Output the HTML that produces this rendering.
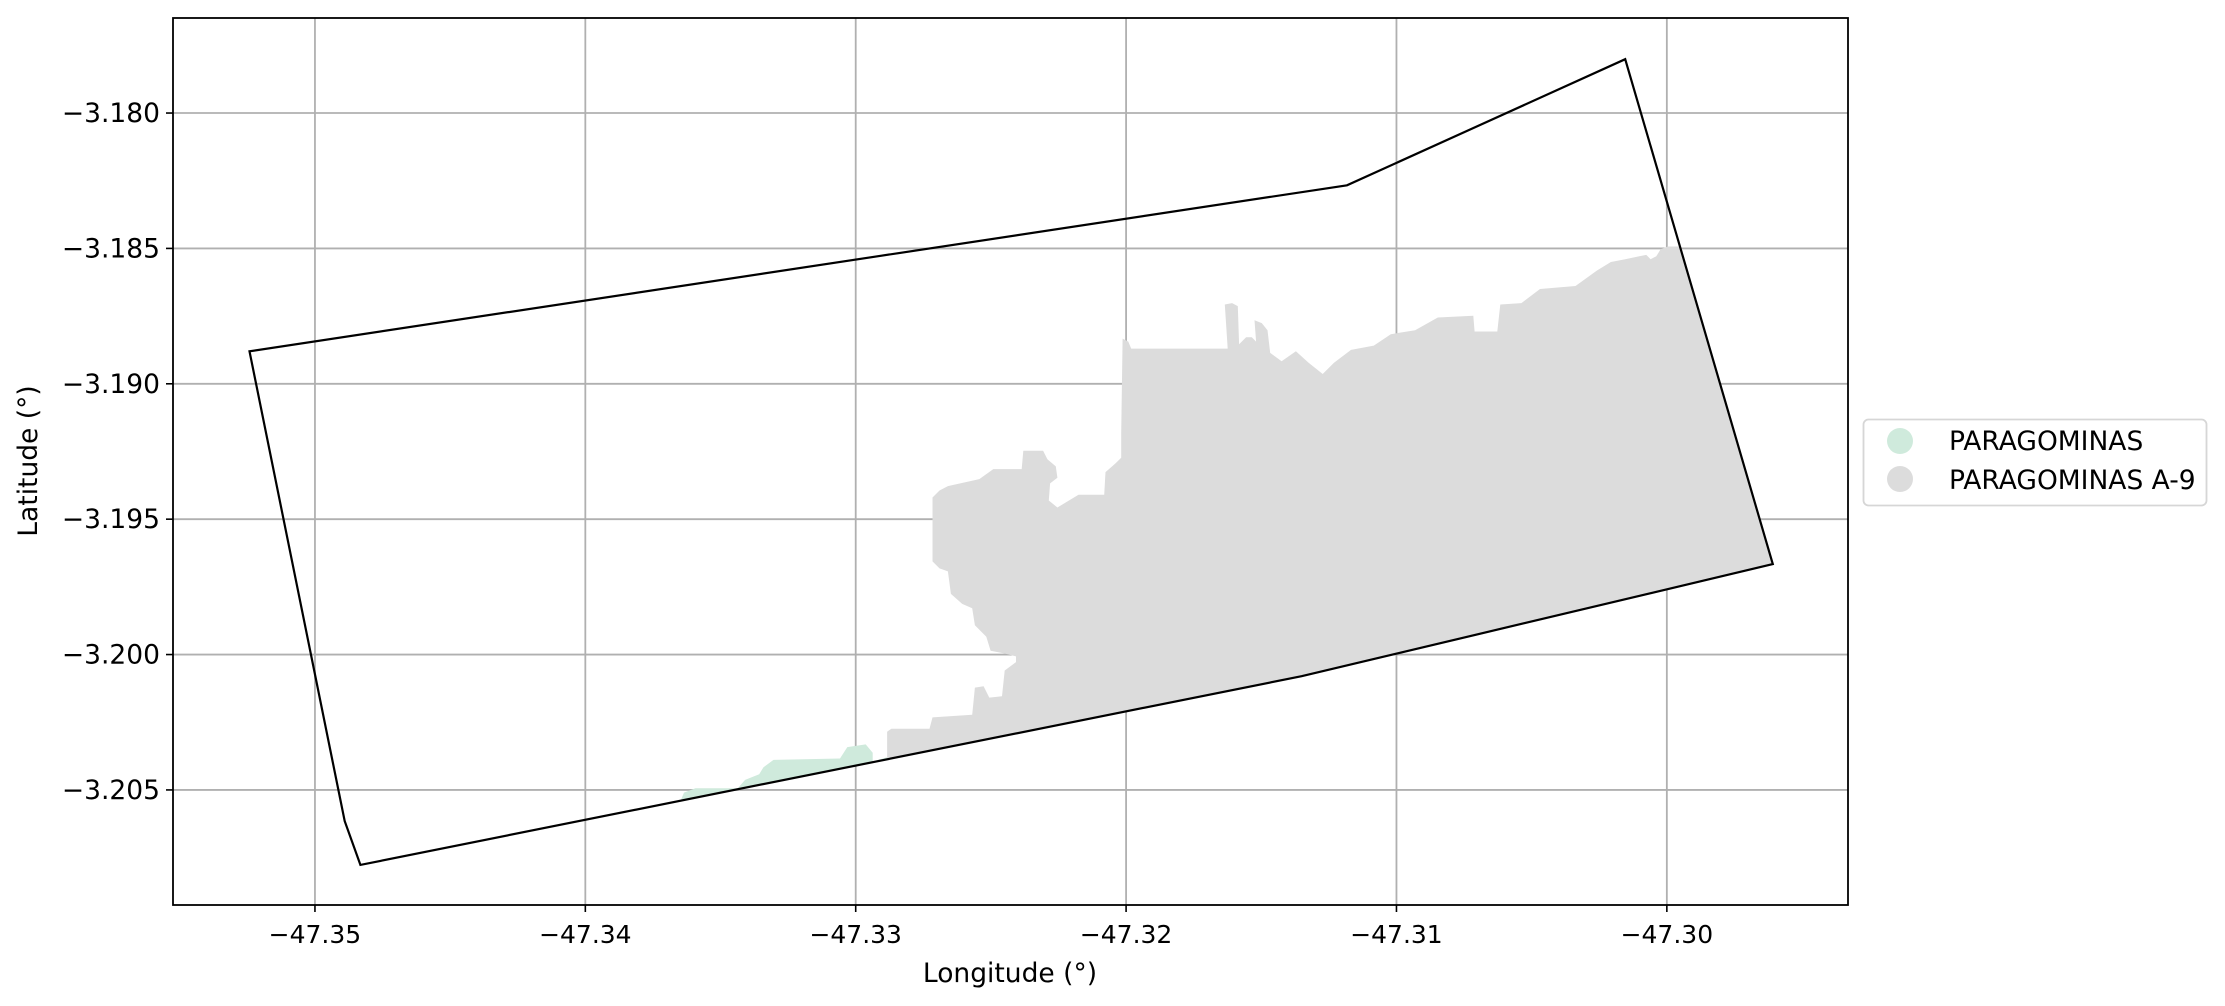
<!DOCTYPE html>
<html><head><meta charset="utf-8"><style>
html,body{margin:0;padding:0;background:#fff;}
svg{display:block;font-family:"DejaVu Sans","Liberation Sans",sans-serif;}
</style></head><body>
<svg id="chart" width="2225" height="1006" viewBox="0 0 2225 1006">
<rect width="2225" height="1006" fill="#fff"/>
<defs><clipPath id="bclip"><polygon id="bclipPoly"/></clipPath><clipPath id="axclip"><rect x="173" y="18" width="1675" height="887"/></clipPath></defs>
<g id="grid"></g>
<g id="shapes" clip-path="url(#axclip)"></g>
<rect x="173" y="18" width="1675" height="887" fill="none" stroke="#000" stroke-width="1.8"/>
<g id="ticks"></g>
<text x="1010" y="982" font-size="26.5" text-anchor="middle">Longitude (°)</text>
<text transform="translate(37,461) rotate(-90)" font-size="26.5" text-anchor="middle">Latitude (°)</text>
<g>
<rect x="1863.5" y="419.5" width="343" height="86" rx="5" fill="#fff" stroke="#d6d6d6" stroke-width="1.8"/>
<circle cx="1900" cy="441" r="13" fill="#cfeadc"/>
<text x="1949" y="450" font-size="26.5">PARAGOMINAS</text>
<circle cx="1900" cy="479" r="13" fill="#dcdcdc"/>
<text x="1949" y="489" font-size="26.5">PARAGOMINAS A-9</text>
</g>
</svg>
<script>
const xTicks=[-47.35,-47.34,-47.33,-47.32,-47.31,-47.30];
const xTickLabels=["−47.35","−47.34","−47.33","−47.32","−47.31","−47.30"];
const yTicks=[-3.180,-3.185,-3.190,-3.195,-3.200,-3.205];
const yTickLabels=["−3.180","−3.185","−3.190","−3.195","−3.200","−3.205"];
const boundaryLon=[-47.35242,-47.34890,-47.34832,-47.31351,-47.29608,-47.30154,-47.31183];
const boundaryLat=[-3.18880,-3.20615,-3.20777,-3.20080,-3.19666,-3.17801,-3.18267];
const greyLon=[-47.32884,-47.32884,-47.32868,-47.32727,-47.32716,-47.32569,-47.32559,-47.32527,-47.32506,-47.32459,-47.32449,-47.32407,-47.32407,-47.32449,-47.32501,-47.32517,-47.32559,-47.32569,-47.32606,-47.32648,-47.32659,-47.32690,-47.32716,-47.32716,-47.32690,-47.32659,-47.32543,-47.32491,-47.32386,-47.32380,-47.32307,-47.32291,-47.32260,-47.32254,-47.32281,-47.32286,-47.32254,-47.32176,-47.32081,-47.32076,-47.32039,-47.32018,-47.32018,-47.32013,-47.31992,-47.31981,-47.31624,-47.31635,-47.31608,-47.31587,-47.31582,-47.31556,-47.31535,-47.31519,-47.31525,-47.31498,-47.31477,-47.31467,-47.31425,-47.31372,-47.31325,-47.31273,-47.31231,-47.31168,-47.31084,-47.31021,-47.30931,-47.30847,-47.30716,-47.30711,-47.30627,-47.30616,-47.30538,-47.30469,-47.30338,-47.30259,-47.30207,-47.30154,-47.30102,-47.30076,-47.30060,-47.30039,-47.30023,-47.29997,-47.29981,-47.29300,-47.29300,-47.32884];
const greyLat=[-3.20379,-3.20285,-3.20274,-3.20274,-3.20232,-3.20222,-3.20122,-3.20117,-3.20159,-3.20154,-3.20059,-3.20028,-3.20007,-3.19996,-3.19986,-3.19934,-3.19892,-3.19829,-3.19813,-3.19776,-3.19693,-3.19682,-3.19656,-3.19420,-3.19394,-3.19378,-3.19352,-3.19315,-3.19315,-3.19247,-3.19247,-3.19279,-3.19305,-3.19347,-3.19368,-3.19431,-3.19457,-3.19410,-3.19410,-3.19326,-3.19294,-3.19273,-3.19184,-3.18833,-3.18844,-3.18870,-3.18870,-3.18707,-3.18702,-3.18713,-3.18854,-3.18828,-3.18828,-3.18844,-3.18765,-3.18776,-3.18802,-3.18886,-3.18917,-3.18880,-3.18922,-3.18964,-3.18922,-3.18875,-3.18859,-3.18817,-3.18802,-3.18755,-3.18749,-3.18807,-3.18807,-3.18707,-3.18702,-3.18650,-3.18639,-3.18582,-3.18550,-3.18540,-3.18529,-3.18524,-3.18540,-3.18529,-3.18503,-3.18493,-3.18493,-3.18493,-3.21000,-3.21000];
const greenLon=[-47.33646,-47.33635,-47.33593,-47.33436,-47.33409,-47.33357,-47.33341,-47.33304,-47.33058,-47.33031,-47.32963,-47.32937,-47.32937,-47.32884,-47.32884,-47.33646];
const greenLat=[-3.20536,-3.20510,-3.20494,-3.20494,-3.20463,-3.20442,-3.20416,-3.20389,-3.20384,-3.20342,-3.20332,-3.20363,-3.20395,-3.20379,-3.20700,-3.20700];
const xMin=-47.35525,xMax=-47.29330,yMin=-3.20925,yMax=-3.17649;
const L=173,R=1848,T=18,B=905;
const NS='http://www.w3.org/2000/svg';
function sx(v){return L+(v-xMin)/(xMax-xMin)*(R-L);}
function sy(v){return T+(yMax-v)/(yMax-yMin)*(B-T);}
function pts(lo,la){return lo.map((v,i)=>sx(v).toFixed(1)+','+sy(la[i]).toFixed(1)).join(' ');}
function mk(tag,attrs,parent){const e=document.createElementNS(NS,tag);for(const k in attrs)e.setAttribute(k,attrs[k]);parent.appendChild(e);return e;}
const grid=document.getElementById('grid'),ticks=document.getElementById('ticks'),shapes=document.getElementById('shapes');
xTicks.forEach((v,i)=>{const x=sx(v);
 const g=mk('line',{x1:x,x2:x,y1:T,y2:B,stroke:'#b0b0b0','stroke-width':1.8},grid);
 
 
 const t=mk('line',{x1:x,x2:x,y1:B,y2:B+7,stroke:'#000','stroke-width':1.6},ticks);
 
 
 const l=mk('text',{x:x,y:B+38,'font-size':25,'text-anchor':'middle'},ticks);l.textContent=xTickLabels[i];
 
 
});
yTicks.forEach((v,i)=>{const y=sy(v);
 const g=mk('line',{x1:L,x2:R,y1:y,y2:y,stroke:'#b0b0b0','stroke-width':1.8},grid);
 
 
 const t=mk('line',{x1:L-7,x2:L,y1:y,y2:y,stroke:'#000','stroke-width':1.6},ticks);
 
 
 const l=mk('text',{x:L-13,y:y+9,'font-size':26.5,'text-anchor':'end'},ticks);l.textContent=yTickLabels[i];
 
 
});
document.getElementById('bclipPoly').setAttribute('points',pts(boundaryLon,boundaryLat));
const gr=mk('polygon',{points:pts(greyLon,greyLat),fill:'#dcdcdc','clip-path':'url(#bclip)'},shapes);


const gn=mk('polygon',{points:pts(greenLon,greenLat),fill:'#cfeadc','clip-path':'url(#bclip)'},shapes);


const bd=mk('polygon',{points:pts(boundaryLon,boundaryLat),fill:'none',stroke:'#000','stroke-width':2.2,'stroke-linejoin':'miter'},shapes);


</script>
</body></html>
